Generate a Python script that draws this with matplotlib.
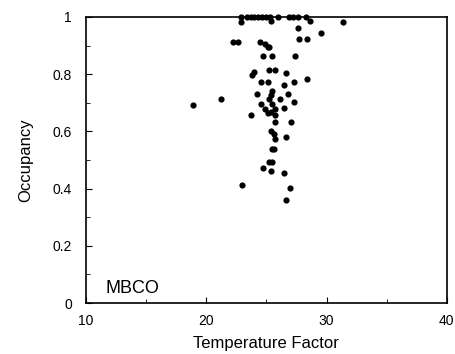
import numpy as np
import matplotlib
matplotlib.use("Agg")
import matplotlib.pyplot as plt
from matplotlib.ticker import MultipleLocator

# temperature factor / occupancy pairs
temp_factor = [
    22.9, 23.4, 23.7, 24.0, 24.3, 24.6, 25.0, 25.3, 26.0, 26.9, 27.2, 27.6, 28.3,
    22.9, 25.4, 28.6, 31.4,
    27.6, 29.5, 27.75, 28.35,
    22.2, 22.6, 24.5, 24.85, 25.1, 25.25,
    24.7, 25.5, 27.4,
    25.25, 25.7, 26.6, 24.0, 23.8,
    28.35, 24.55, 25.1, 27.3, 26.5,
    25.5, 24.25, 26.8, 25.4,
    21.2, 25.25, 26.1, 27.3, 18.9,
    24.55, 24.85, 25.1, 25.4, 25.7, 25.5, 26.5,
    23.7, 25.7, 25.7, 27.05,
    25.4, 25.6, 26.6, 25.7,
    25.5, 25.65, 25.2, 25.45,
    24.7, 25.4, 26.5, 23.0, 26.95, 26.6,
]
occupancy = [
    1.0, 1.0, 1.0, 1.0, 1.0, 1.0, 1.0, 1.0, 1.0, 1.0, 1.0, 1.0, 1.0,
    0.983, 0.985, 0.985, 0.984,
    0.963, 0.943, 0.923, 0.923,
    0.911, 0.911, 0.912, 0.907, 0.896, 0.894,
    0.865, 0.865, 0.865,
    0.814, 0.814, 0.804, 0.806, 0.797,
    0.782, 0.772, 0.772, 0.772, 0.762,
    0.742, 0.732, 0.732, 0.727,
    0.712, 0.712, 0.712, 0.703, 0.691,
    0.695, 0.677, 0.665, 0.668, 0.677, 0.695, 0.683,
    0.656, 0.656, 0.633, 0.633,
    0.603, 0.592, 0.581, 0.572,
    0.54, 0.54, 0.493, 0.493,
    0.472, 0.463, 0.455, 0.412, 0.402, 0.361,
]

plt.rcParams['font.family'] = ['Liberation Sans', 'DejaVu Sans']

fig = plt.figure(figsize=(4.55, 3.54), dpi=100)
ax = fig.add_axes([0.189, 0.144, 0.793, 0.808])

ax.scatter(temp_factor, occupancy, s=20, color='black', linewidths=0, clip_on=False)

ax.set_xlim(10, 40)
ax.set_ylim(0, 1)
ax.xaxis.set_major_locator(MultipleLocator(10))
ax.xaxis.set_minor_locator(MultipleLocator(5))
ax.yaxis.set_minor_locator(MultipleLocator(0.1))
ax.set_yticks([0, 0.2, 0.4, 0.6, 0.8, 1.0])
ax.set_yticklabels(['0', '0.2', '0.4', '0.6', '0.8', '1'])
ax.tick_params(which='both', direction='in', labelsize=10)
ax.tick_params(axis='y', which='major', length=4, pad=10)
ax.tick_params(axis='x', which='major', length=4, pad=8)
ax.tick_params(which='minor', length=3)
for s in ax.spines.values():
    s.set_linewidth(1.2)

ax.set_xlabel('Temperature Factor', fontsize=12, labelpad=6)
ax.set_ylabel('Occupancy', fontsize=12, labelpad=14)
ax.text(11.6, 0.035, 'MBCO', fontsize=13)

fig.savefig('out.png', dpi=100)
